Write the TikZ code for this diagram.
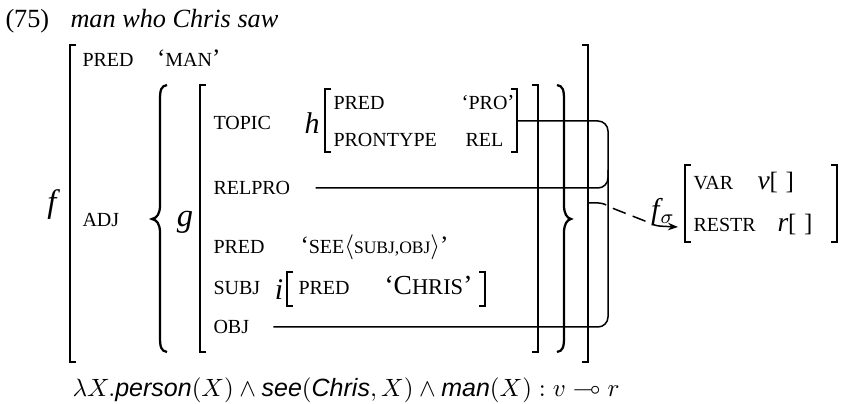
\documentclass[tikz,border=0pt]{standalone}
\usepackage{amsmath, amssymb}
\usepackage{fontspec}
\setmainfont{Liberation Serif}
\newfontfamily\formfont{Liberation Sans}
\usepackage{tikz}
\usetikzlibrary{positioning, arrows.meta}

\newcommand{\sct}[1]{{\fontsize{8}{9}\selectfont\MakeUppercase{#1}}}
\newcommand{\scs}[1]{{\fontsize{7}{8}\selectfont\MakeUppercase{#1}}}

\begin{document}
\begin{tikzpicture}[x=0.4pt,y=-0.4pt,
    attr/.style={anchor=base west, inner sep=0pt, font=\fontsize{10}{12}\selectfont},
    lbl/.style={inner sep=0pt, font=\fontsize{12}{14}\selectfont\itshape},
    brk/.style={line width=0.8pt},
    brc/.style={line width=0.9pt},
    link/.style={line width=0.6pt, rounded corners=4pt},
    sigarr/.style={line width=0.6pt, dash pattern=on 7pt off 3pt on 5.5pt off 3pt on 5.5pt off 3pt on 20pt,
      -{Stealth[length=4pt,width=3pt]}}]
\useasboundingbox (0,0) rectangle (842,404);

% heading
\node[attr, font=\fontsize{10.5}{12}\selectfont] (exno) at (5,28) {(75)};
\node[attr, font=\fontsize{10.5}{12}\selectfont\itshape] (gloss) at (70,28) {man who Chris saw};

% f
\node[lbl, font=\fontsize{13}{14}\selectfont\itshape] (f) at (52,205) {f};
\draw[brk] (76,45) -- (70,45) -- (70,362) -- (76,362);
\draw[brk] (582,45) -- (588,45) -- (588,362) -- (582,362);
\node[attr] (pred) at (82,66.5) {\sct{pred}};
\node[attr] (man) [base right=9pt of pred] {`\sct{man}'};
\node[attr] (adj) at (82,226.5) {\sct{adj}};

% set braces
\draw[brc] (167,85) .. controls (161,86) and (160,90) .. (160,100) -- (160,205)
  .. controls (160,214) and (157,218) .. (152,219) .. controls (157,220) and (160,224) .. (160,233)
  -- (160,337) .. controls (160,347) and (161,351) .. (167,352);
\draw[brc] (557,85) .. controls (563,86) and (564,90) .. (564,100) -- (564,205)
  .. controls (564,214) and (567,218) .. (571,219) .. controls (567,220) and (564,224) .. (564,233)
  -- (564,337) .. controls (564,347) and (563,351) .. (557,352);

% g
\node[lbl, font=\fontsize{13}{14}\selectfont\itshape] (g) at (185,222) {g};
\draw[brk] (206,85) -- (200,85) -- (200,352) -- (206,352);
\draw[brk] (532,85) -- (538,85) -- (538,352) -- (532,352);
\node[attr] (topic) at (213,129.5) {\sct{topic}};
\node[attr] (relpro) at (213,194.5) {\sct{relpro}};
\node[attr] (gpred) at (213,253.5) {\sct{pred}};
\node[attr] (see) at (300,253.5) {`\sct{see}$\langle$\scs{subj,obj}$\rangle$'};
\node[attr] (subj) at (213,294.5) {\sct{subj}};
\node[attr] (obj) at (213,333.5) {\sct{obj}};

% h
\node[lbl] (h) at (312,123) {h};
\draw[brk] (331,89) -- (325,89) -- (325,152) -- (331,152);
\draw[brk] (511,89) -- (517,89) -- (517,152) -- (511,152);
\node[attr] (hpred) at (333,109.5) {\sct{pred}};
\node[attr] (pro) at (461,109.5) {{\fontsize{8.5}{9}\selectfont`}\sct{pro}{\fontsize{8.5}{9}\selectfont'}};
\node[attr] (prontype) at (333,146.5) {\sct{prontype}};
\node[attr] (rel) at (465,146.5) {\sct{rel}};

% i
\node[lbl] (i) at (279,290) {i};
\draw[brk] (293,272) -- (287,272) -- (287,306) -- (293,306);
\draw[brk] (479,272) -- (485,272) -- (485,306) -- (479,306);
\node[attr] (ipred) at (298,294.5) {\sct{pred}};
\node[attr] (chris) at (384,294.5) {{\fontsize{11}{12}\selectfont`C}{\fontsize{9}{10}\selectfont HRIS}{\fontsize{11}{12}\selectfont'}};

% structure sharing
\coordinate (hR) at (517,121);
\coordinate (objL) at ([xshift=9.5pt]obj.east);
\draw[link] (hR) -- (608,121) -- (608,327) -- (objL);
\draw[link] ([xshift=10pt]relpro.east) -- (608,188) -- (608,170);

% sigma projection
\node[lbl] (fsig) at (663,212) {f\kern0.5pt$_\sigma$};
\draw[brk] (691,165) -- (685,165) -- (685,242) -- (691,242);
\draw[brk] (831,165) -- (837,165) -- (837,242) -- (831,242);
\node[attr] (var) at (693,189.5) {\sct{var}};
\node[attr] (vval) at (757,189.5) {{\fontsize{11}{12}\selectfont\itshape v}[\hspace{3pt}]};
\node[attr] (restr) at (693,231.5) {\sct{restr}};
\node[attr] (rval) at (777,231.5) {{\fontsize{11}{12}\selectfont\itshape r}[\hspace{3pt}]};
\coordinate (fR) at (589,203);
\coordinate (sigtip) at (678,227);
\draw[sigarr] (fR) .. controls (604,202) and (606,205) .. (612,208) -- (650,223)
  .. controls (656,226) .. (sigtip);

% meaning constructor
\node[attr, font=\fontsize{10}{12}\selectfont\formfont] (mc) at (72,397)
  {$\lambda X.$\textit{person}$(X) \wedge{}$\textit{see}$(\text{\textit{Chris}}, X) \wedge{}$\textit{man}$(X) : v \multimap r$};
\end{tikzpicture}
\end{document}
